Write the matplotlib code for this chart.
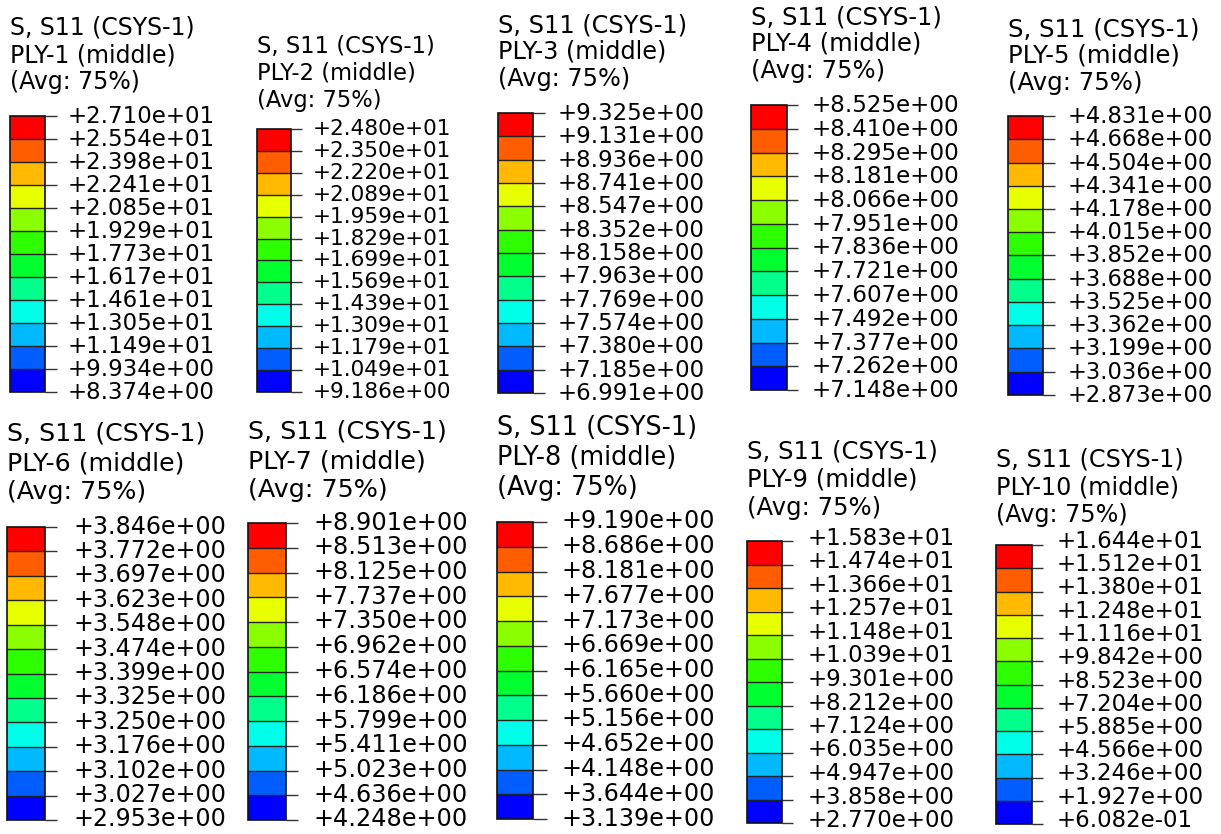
import matplotlib
matplotlib.use("Agg")
import matplotlib.pyplot as plt
from matplotlib.colors import ListedColormap, BoundaryNorm
from matplotlib.colorbar import ColorbarBase
from matplotlib.transforms import ScaledTranslation

# ---- data (top to bottom, as printed in each legend) ----
ply1 = [27.10, 25.54, 23.98, 22.41, 20.85, 19.29, 17.73, 16.17, 14.61, 13.05, 11.49, 9.934, 8.374]
ply2 = [24.80, 23.50, 22.20, 20.89, 19.59, 18.29, 16.99, 15.69, 14.39, 13.09, 11.79, 10.49, 9.186]
ply3 = [9.325, 9.131, 8.936, 8.741, 8.547, 8.352, 8.158, 7.963, 7.769, 7.574, 7.380, 7.185, 6.991]
ply4 = [8.525, 8.410, 8.295, 8.181, 8.066, 7.951, 7.836, 7.721, 7.607, 7.492, 7.377, 7.262, 7.148]
ply5 = [4.831, 4.668, 4.504, 4.341, 4.178, 4.015, 3.852, 3.688, 3.525, 3.362, 3.199, 3.036, 2.873]
ply6 = [3.846, 3.772, 3.697, 3.623, 3.548, 3.474, 3.399, 3.325, 3.250, 3.176, 3.102, 3.027, 2.953]
ply7 = [8.901, 8.513, 8.125, 7.737, 7.350, 6.962, 6.574, 6.186, 5.799, 5.411, 5.023, 4.636, 4.248]
ply8 = [9.190, 8.686, 8.181, 7.677, 7.173, 6.669, 6.165, 5.660, 5.156, 4.652, 4.148, 3.644, 3.139]
ply9 = [15.83, 14.74, 13.66, 12.57, 11.48, 10.39, 9.301, 8.212, 7.124, 6.035, 4.947, 3.858, 2.770]
ply10 = [16.44, 15.12, 13.80, 12.48, 11.16, 9.842, 8.523, 7.204, 5.885, 4.566, 3.246, 1.927, 0.6082]

ply_values = [ply1, ply2, ply3, ply4, ply5, ply6, ply7, ply8, ply9, ply10]
ply_names = ["PLY-1", "PLY-2", "PLY-3", "PLY-4", "PLY-5",
             "PLY-6", "PLY-7", "PLY-8", "PLY-9", "PLY-10"]
title_line1 = "S, S11 (CSYS-1)"
title_line3 = "(Avg: 75%)"

# Abaqus legend colours, top (max) to bottom (min)
abaqus_colors = ["#FF0000", "#FF5D00", "#FFB900", "#E8FF00", "#8BFF00", "#2EFF00",
                 "#00FF2E", "#00FF8B", "#00FFE8", "#00B9FF", "#005DFF", "#0000FF"]

# ---- layout in pixels: bar left, bar right, bar top, bar bottom, title x,
#      three title line centres, title font size, label font size,
#      tick length (px), label pad (px), label lift (px) ----
W, H = 1221, 834
layout = [
    (10, 45, 116, 392, 10, (28, 55, 82), 17.0, 16.5, 12, 11, 2),
    (257, 291, 129, 392, 257, (47, 73, 100), 16.3, 15.6, 11, 11, 2),
    (498, 533, 113, 393, 498, (25, 52, 79), 17.3, 16.5, 12, 13, 2),
    (751, 787, 105, 390, 751, (17, 44, 71), 17.5, 16.6, 11, 14, 2),
    (1008, 1043, 116, 395, 1008, (29, 56, 83), 17.6, 16.3, 12, 13, 2),
    (7, 45, 527, 820, 7, (433, 463, 492), 18.2, 17.1, 12, 16, 3),
    (248, 286, 523, 820, 248, (431, 461, 490), 18.3, 17.3, 12, 15, 3),
    (497, 533, 522, 819, 497, (428, 458, 488), 18.4, 17.2, 14, 14, 3),
    (747, 782, 541, 823, 747, (452, 480, 508), 17.5, 16.5, 11, 15, 5),
    (996, 1032, 545, 824, 996, (459, 487, 515), 17.2, 16.5, 11, 14, 6),
]

plt.rcParams["font.family"] = ["DejaVu Sans"]
plt.rcParams["axes.unicode_minus"] = False
fig = plt.figure(figsize=(W / 100, H / 100), dpi=100)
fig.patch.set_facecolor("white")

cmap = ListedColormap(abaqus_colors[::-1])
PX = 0.72  # points per pixel at 100 dpi

for vals, name, lay in zip(ply_values, ply_names, layout):
    xl, xr, yt, yb, tx, centers, tfs, lfs, tlen, tpad, lift = lay
    cax = fig.add_axes([xl / W, 1 - yb / H, (xr - xl) / W, (yb - yt) / H])
    bounds = sorted(vals)
    norm = BoundaryNorm(bounds, cmap.N)
    cb = ColorbarBase(cax, cmap=cmap, norm=norm, boundaries=bounds,
                      spacing="uniform", drawedges=True, orientation="vertical")
    cb.set_ticks(bounds, labels=["{:+.3e}".format(v) for v in bounds])
    cb.outline.set_edgecolor("#111111")
    cb.outline.set_linewidth(1.2)
    cb.dividers.set_color("#222222")
    cb.dividers.set_linewidth(1.0)
    cax.tick_params(axis="y", length=tlen * PX, width=1.0, color="#333333",
                    pad=tpad * PX, labelsize=lfs, labelcolor="black")
    shift = ScaledTranslation(0, lift / 100, fig.dpi_scale_trans)
    for lab in cax.get_yticklabels():
        lab.set_transform(lab.get_transform() + shift)

    lines = [title_line1, f"{name} (middle)", title_line3]
    for txt, cy in zip(lines, centers):
        fig.text(tx / W, 1 - cy / H, txt, fontsize=tfs, ha="left", va="center",
                 color="black")

fig.savefig("out.png", dpi=100, facecolor="white")
